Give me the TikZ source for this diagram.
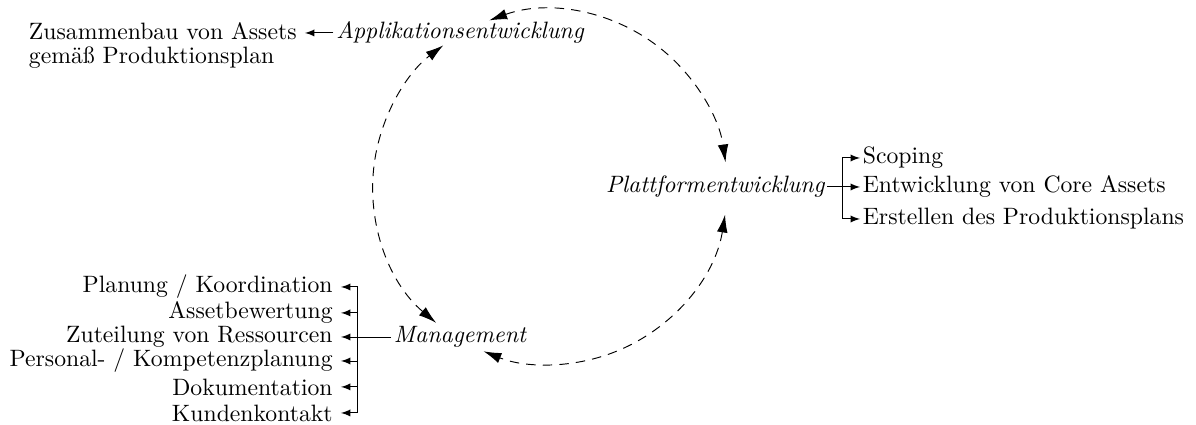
\documentclass[tikz,border=0pt]{standalone}
\usepackage{fontspec}
\usepackage{tikz}
\usetikzlibrary{arrows, arrows.meta, positioning}

\begin{document}
\begin{tikzpicture}[>=latex,
  cycle/.style={dash pattern=on 4pt off 3pt, {Latex[length=7.5pt,width=4.5pt]}-{Latex[length=7.5pt,width=4.5pt]}}]

\useasboundingbox (-8.16,-3.531) rectangle (9.585,2.774);

\coordinate (m) at (0,0);

\begin{scope}[every node/.style={font=\itshape, inner sep=1pt}]
  \node (appl) at (-1.335,2.285) {Applikationsentwicklung};
  \node (platt) [anchor=east] at (4.117,0) {Plattformentwicklung};
  \node (mgmt) at (-1.335,-2.226) {Management};
\end{scope}

\draw[cycle] (m) ++(110:2.63) arc[start angle=110, end angle=8, radius=2.63];
\draw[cycle] (m) ++(-9:2.63) arc[start angle=-9, end angle=-112, radius=2.63];
\draw[cycle] (m) ++(-130:2.63) arc[start angle=-130, end angle=-233, radius=2.63];

\node (assembly) [anchor=north east, align=left] at (-3.635,2.558) {Zusammenbau von Assets\\[-2pt]gemäß Produktionsplan};
\draw[->] (appl.west) -- (appl.west -| assembly.east);

\begin{scope}[every node/.style={anchor=west, inner sep=1pt}]
  \node (scop) at (4.60,0.430) {Scoping};
  \node (core) at (4.60,0) {Entwicklung von Core Assets};
  \node (prod) at (4.60,-0.475) {Erstellen des Produktionsplans};
\end{scope}

\coordinate (rbar) at (4.347,0);
\draw (platt.east) -- (rbar);
\draw[->] (rbar) |- (scop.west);
\draw[->] (rbar) -- (core.west);
\draw[->] (rbar) |- (prod.west);

\begin{scope}[every node/.style={anchor=east}]
  \node (coord) at (-3.101,-1.484) {Planung / Koordination};
  \node (rating) at (-3.101,-1.869) {Assetbewertung};
  \node (res) at (-3.101,-2.226) {Zuteilung von Ressourcen};
  \node (staff) at (-3.101,-2.582) {Personal- / Kompetenzplanung};
  \node (doc) at (-3.101,-2.967) {Dokumentation};
  \node (cust) at (-3.101,-3.353) {Kundenkontakt};
\end{scope}

\coordinate (lbar) at (-2.849,-2.226);
\draw (mgmt.west) -- (lbar);
\draw[->] (lbar) |- (coord.east);
\draw[->] (lbar) |- (rating.east);
\draw[->] (lbar) -- (res.east);
\draw[->] (lbar) |- (staff.east);
\draw[->] (lbar) |- (doc.east);
\draw[->] (lbar) |- (cust.east);

\end{tikzpicture}
\end{document}
